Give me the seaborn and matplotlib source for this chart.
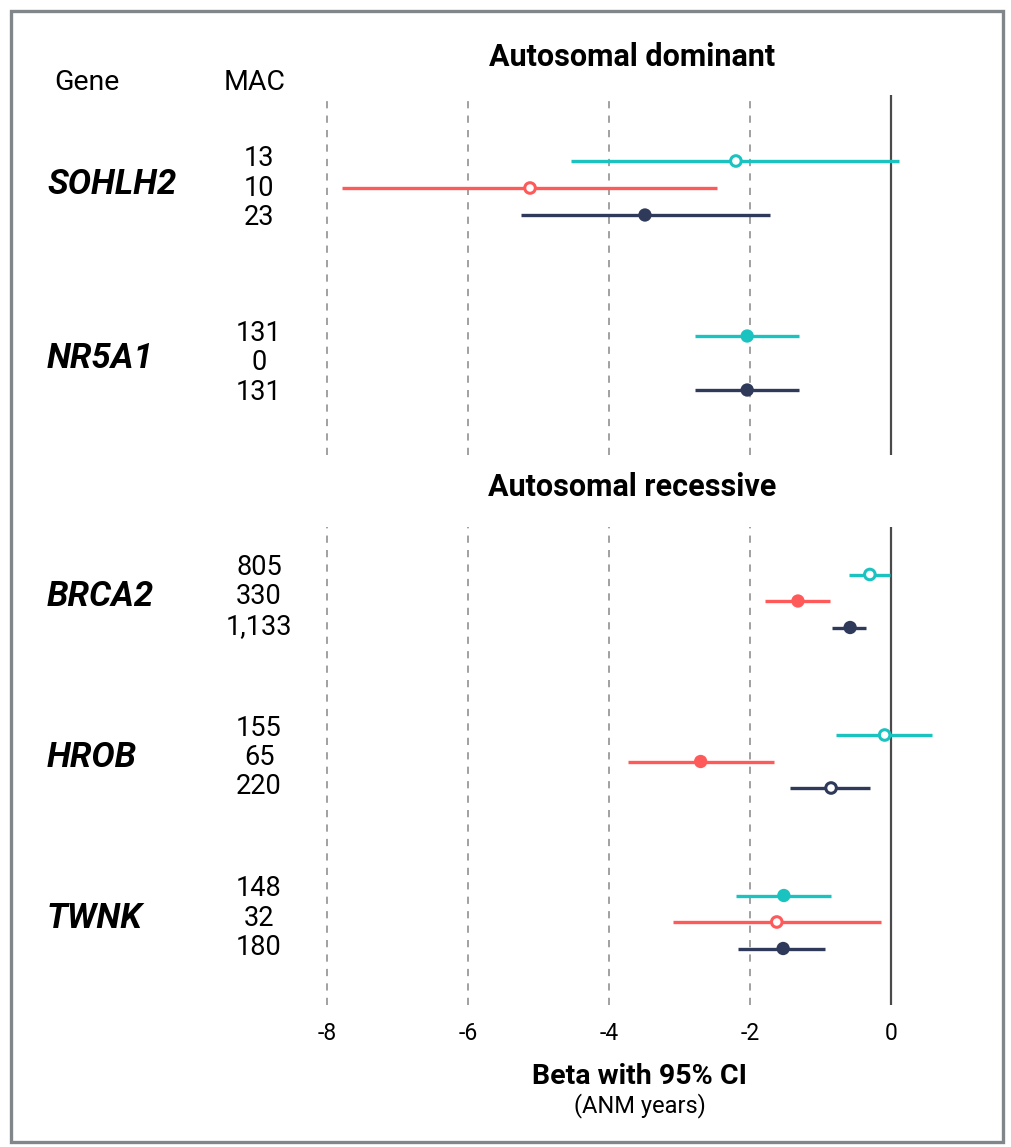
import numpy as np
import pandas as pd
import matplotlib
matplotlib.use("Agg")
import matplotlib.pyplot as plt
import matplotlib.transforms as mtransforms
from matplotlib.patches import Rectangle
import seaborn as sns

sns.set_theme(style="white")
plt.rcParams["font.family"] = ["Roboto", "DejaVu Sans"]
plt.rcParams["text.color"] = "black"
plt.rcParams["xtick.color"] = "black"

# ---- data -------------------------------------------------------------
genes = ["SOHLH2", "NR5A1", "BRCA2", "HROB", "TWNK"]
panel = ["Autosomal dominant", "Autosomal dominant",
         "Autosomal recessive", "Autosomal recessive", "Autosomal recessive"]
series = ["pLoF", "Missense", "Combined"]

beta_plof = [-2.20, -2.04, -0.30, -0.09, -1.52]
lo_plof = [-4.54, -2.78, -0.60, -0.78, -2.20]
hi_plof = [0.11, -1.30, -0.01, 0.58, -0.85]
sig_plof = [False, True, False, False, True]
mac_plof = [13, 131, 805, 155, 148]

beta_mis = [-5.12, np.nan, -1.32, -2.70, -1.62]
lo_mis = [-7.79, np.nan, -1.79, -3.73, -3.09]
hi_mis = [-2.47, np.nan, -0.87, -1.66, -0.14]
sig_mis = [False, False, True, True, False]
mac_mis = [10, 0, 330, 65, 32]

beta_comb = [-3.49, -2.04, -0.58, -0.85, -1.53]
lo_comb = [-5.25, -2.78, -0.84, -1.43, -2.17]
hi_comb = [-1.72, -1.30, -0.35, -0.30, -0.94]
sig_comb = [True, True, True, False, True]
mac_comb = [23, 131, 1133, 220, 180]

xticks = [-8, -6, -4, -2, 0]

# ---- long table -------------------------------------------------------
rows = []
for k, (name, b, lo, hi, sig, mac) in enumerate([
        ("pLoF", beta_plof, lo_plof, hi_plof, sig_plof, mac_plof),
        ("Missense", beta_mis, lo_mis, hi_mis, sig_mis, mac_mis),
        ("Combined", beta_comb, lo_comb, hi_comb, sig_comb, mac_comb)]):
    for g in range(len(genes)):
        rows.append(dict(gene=genes[g], panel=panel[g], series=name, k=k,
                         beta=b[g], lo=lo[g], hi=hi[g], sig=sig[g], mac=mac[g]))
df = pd.DataFrame(rows)

palette = {"pLoF": "#1BC3C0", "Missense": "#FF5A5A", "Combined": "#2F3A5A"}

# ---- layout (pixels) --------------------------------------------------
W, H = 1012, 1147
fig = plt.figure(figsize=(W / 100, H / 100), dpi=100)

xlim = (-8.6, 0.9)
px_per_unit = 70.5
x0_px = 891 - (0 - xlim[0]) * px_per_unit
w_px = (xlim[1] - xlim[0]) * px_per_unit

panels = {
    "Autosomal dominant": dict(top=95, bottom=455, first=188, spacing=175,
                               step=27, mac_step=29.5, mac_shift=0,
                               title_y=57),
    "Autosomal recessive": dict(top=527, bottom=1005, first=601, spacing=160.5,
                                step=26.5, mac_step=29.5, mac_shift=-4,
                                title_y=487),
}

axes = {}
for name, p in panels.items():
    ax = fig.add_axes([x0_px / W, 1 - p["bottom"] / H, w_px / W,
                       (p["bottom"] - p["top"]) / H])
    sp = p["spacing"]
    ymin = -(p["first"] - p["top"]) / sp
    ymax = ymin + (p["bottom"] - p["top"]) / sp
    ax.set_xlim(*xlim)
    ax.set_ylim(ymax, ymin)
    for s in ax.spines.values():
        s.set_visible(False)
    ax.set_yticks([])
    for t in xticks[:-1]:
        ax.axvline(t, color="#9a9a9a", lw=1.3, ls=(0, (4, 4)), zorder=0)
    ax.axvline(0, color="#4a4a4a", lw=1.6, zorder=0)
    axes[name] = ax

    sub = df[df["panel"] == name].copy()
    gidx = {g: i for i, g in enumerate(pd.unique(sub["gene"]))}
    sub["y"] = sub["gene"].map(gidx) + (sub["k"] - 1) * p["step"] / sp
    sub = sub.dropna(subset=["beta"])

    # confidence intervals
    for s_name, part in sub.groupby("series"):
        ax.hlines(part["y"], part["lo"], part["hi"], color=palette[s_name],
                  lw=2.4, zorder=2)

    # filled points (significant)
    sns.scatterplot(data=sub[sub["sig"]], x="beta", y="y", hue="series",
                    palette=palette, s=92, linewidth=0, legend=False, ax=ax,
                    zorder=3)
    # open points
    n_before = len(ax.collections)
    sns.scatterplot(data=sub[~sub["sig"]], x="beta", y="y", hue="series",
                    palette=palette, s=58, linewidth=2.2, legend=False, ax=ax,
                    zorder=3)
    for coll in ax.collections[n_before:]:
        fc = coll.get_facecolors()
        coll.set_edgecolors(fc)
        coll.set_facecolors("white")

    ax.set_xlabel("")
    ax.set_ylabel("")

    # gene names and MAC counts
    trans = mtransforms.blended_transform_factory(fig.transFigure, ax.transData)
    for g, i in gidx.items():
        ax.text(47 / W, i - 4 / sp, g, transform=trans, ha="left", va="center",
                fontsize=25, fontweight="bold", fontstyle="italic", color="black")
        gsub = df[(df["panel"] == name) & (df["gene"] == g)].sort_values("k")
        for _, r in gsub.iterrows():
            y_txt = i + ((r["k"] - 1) * p["mac_step"] + p["mac_shift"]) / sp
            ax.text(259 / W, y_txt, f"{int(r['mac']):,}", transform=trans,
                    ha="center", va="center", fontsize=19.5, color="black")

    fig.text(632 / W, 1 - p["title_y"] / H, name, ha="center", va="center",
             fontsize=22, fontweight="bold")

# x axis only on the lower panel
ax_top = axes["Autosomal dominant"]
ax_top.set_xticks([])
ax_bot = axes["Autosomal recessive"]
ax_bot.set_xticks(xticks)
ax_bot.set_xticklabels([str(t) for t in xticks])
ax_bot.tick_params(axis="x", length=0, pad=12, labelsize=16.5)

fig.text(87 / W, 1 - 83 / H, "Gene", ha="center", va="center", fontsize=20.5)
fig.text(255 / W, 1 - 83 / H, "MAC", ha="center", va="center", fontsize=20.5)
fig.text(640 / W, 1 - 1076 / H, "Beta with 95% CI", ha="center", va="center",
         fontsize=20.5, fontweight="bold")
fig.text(640 / W, 1 - 1106 / H, "(ANM years)", ha="center", va="center",
         fontsize=17)

# frame around the figure
fig.patches.append(Rectangle((11 / W, 1 - 1142 / H), (1003 - 11) / W,
                             (1142 - 11) / H, transform=fig.transFigure,
                             fill=False, edgecolor="#80868a", lw=2.4))

fig.savefig("out.png", dpi=100)
